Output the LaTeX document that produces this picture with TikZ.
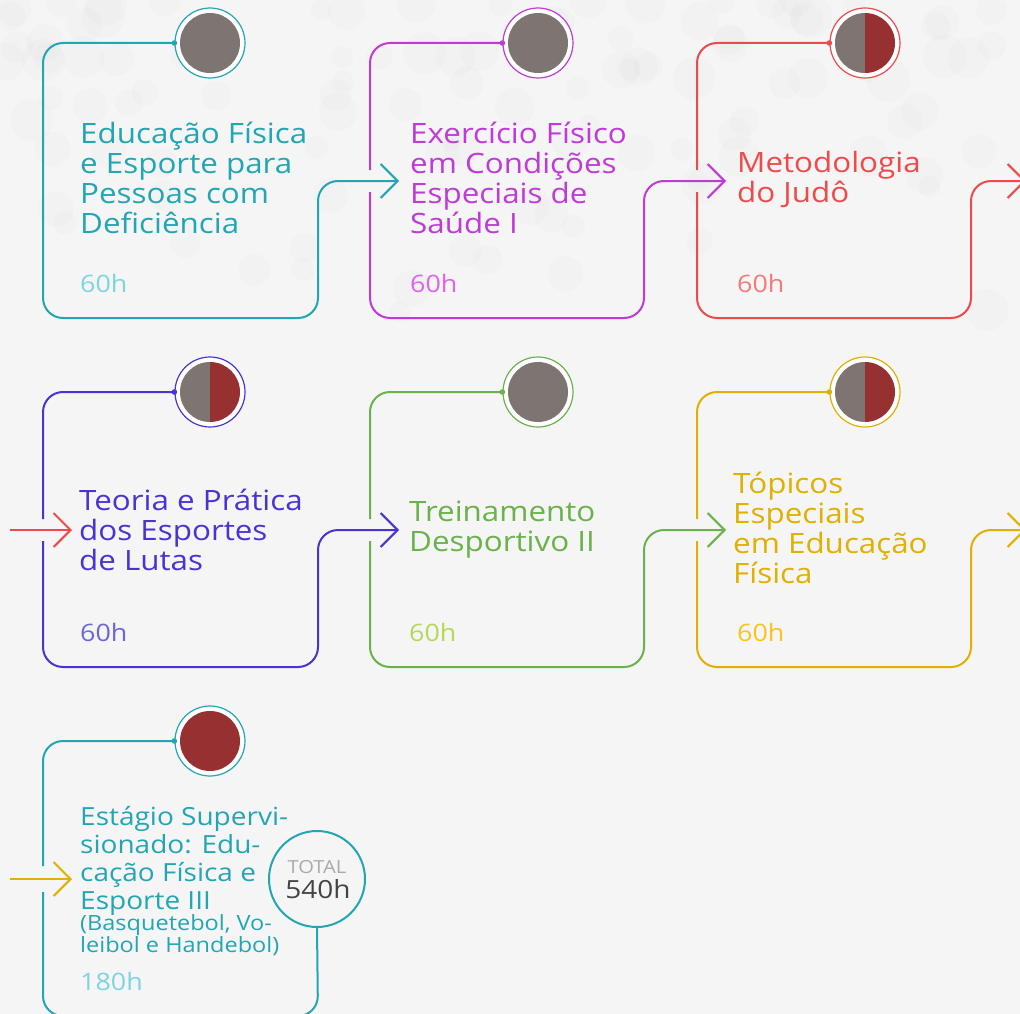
\documentclass[tikz,border=0pt]{standalone}
\usepackage{fontspec}
\setmainfont{Open Sans}[FakeStretch=1.12]
\usetikzlibrary{arrows.meta,calc}
\definecolor{bg}{HTML}{F5F5F5}
\definecolor{cTeal}{HTML}{22A6B3}
\definecolor{cTealL}{HTML}{7DD5DF}
\definecolor{cMag}{HTML}{BF3AD8}
\definecolor{cMagL}{HTML}{DE63EF}
\definecolor{cRed}{HTML}{EE4A4C}
\definecolor{cRedL}{HTML}{F67A7A}
\definecolor{cBlue}{HTML}{4934D2}
\definecolor{cBlueL}{HTML}{6A66DE}
\definecolor{cGreen}{HTML}{6AB24B}
\definecolor{cGreenL}{HTML}{B4D955}
\definecolor{cGold}{HTML}{E1B000}
\definecolor{cGoldL}{HTML}{F7C51D}
\definecolor{dGray}{HTML}{7E7573}
\definecolor{dRed}{HTML}{973131}
\definecolor{totGray}{HTML}{AAAAAA}
\definecolor{totDark}{HTML}{444444}
\tikzset{
 card/.style={line width=2pt, rounded corners=20pt},
 arr/.style={-{Straight Barb[length=17pt,width=34pt]}},
 ring/.style={circle, minimum size=70pt, inner sep=0pt, line width=1.2pt, fill=white, draw},
 title/.style={anchor=base west, align=left, inner sep=0pt, font=\fontsize{28}{30}\selectfont},
 hours/.style={anchor=base west, inner sep=0pt, font=\fontsize{24}{28}\selectfont},
}
\newcommand\grayDisc[1]{\fill[dGray] (#1) circle (30pt);}
\newcommand\redDisc[1]{\fill[dRed] (#1) circle (30pt);}
\newcommand\halfDisc[1]{%
  \fill[dGray] ($(#1)+(0,30)$) arc[start angle=90, end angle=270, radius=30] -- cycle;
  \fill[dRed] ($(#1)+(0,30)$) arc[start angle=90, end angle=-90, radius=30] -- cycle;}
\begin{document}
\begin{tikzpicture}[x=1pt,y=-1pt]
\useasboundingbox (0,0) rectangle (1020,1014);
\clip (0,0) rectangle (1020,1014);
\fill[bg] (0,0) rectangle (1020,1014);
\pgfmathsetseed{3}
\foreach \k in {1,...,110}{
  \pgfmathsetmacro\xx{rnd*1020}
  \pgfmathsetmacro\yy{rnd*rnd*340}
  \pgfmathsetmacro\rr{10+rnd*12}
  \fill[black, opacity=0.012] (\xx,\yy) circle (\rr pt);
}
% circles
\node[ring, draw=cTeal]  (c1) at (210,43) {};
\node[ring, draw=cMag]   (c2) at (538,43) {};
\node[ring, draw=cRed]   (c3) at (865,43) {};
\node[ring, draw=cBlue]  (c4) at (210,392) {};
\node[ring, draw=cGreen] (c5) at (538,392) {};
\node[ring, draw=cGold]  (c6) at (865,392) {};
\node[ring, draw=cTeal]  (c7) at (210,741) {};
\grayDisc{c1}\grayDisc{c2}\halfDisc{c3}
\halfDisc{c4}\grayDisc{c5}\halfDisc{c6}
\redDisc{c7}
% arrow tips
\coordinate (a2) at (399,181);
\coordinate (a3) at (726,181);
\coordinate (a3out) at (1026,181);
\coordinate (a4in) at (10,530);
\coordinate (a4) at (72,530);
\coordinate (a5) at (399,530);
\coordinate (a6) at (726,530);
\coordinate (a6out) at (1026,530);
\coordinate (a7in) at (10,879);
\coordinate (a7) at (72,879);
% total circle
\node[circle, draw=cTeal, line width=2pt, fill=bg, minimum size=96pt, inner sep=0pt] (tot) at (317,879) {};
\node[anchor=base, inner sep=0pt, text=totGray, font=\fontsize{18}{20}\selectfont] (totl) at (317,873) {TOTAL};
\node[anchor=base, inner sep=0pt, text=totDark, font=\fontsize{25}{26}\selectfont] (toth) at (318,898) {540h};
% card outlines
\draw[card, cTeal, arr] (c1.west) -- (43,43) -- (43,318) -- (318,318) -- (318,181) -- (a2);
\draw[card, cMag] (c2.west) -- (370,43) -- (370,170);
\draw[card, cMag, arr] (370,192) -- (370,318) -- (644,318) -- (644,181) -- (a3);
\draw[card, cRed] (c3.west) -- (697,43) -- (697,170);
\draw[card, cRed, arr] (697,192) -- (697,318) -- (971,318) -- (971,181) -- (a3out);
\draw[line width=2pt, cRed, arr] (a4in) -- (a4);
\draw[card, cBlue] (c4.west) -- (43,392) -- (43,519);
\draw[card, cBlue, arr] (43,541) -- (43,667) -- (318,667) -- (318,530) -- (a5);
\draw[card, cGreen] (c5.west) -- (370,392) -- (370,519);
\draw[card, cGreen, arr] (370,541) -- (370,667) -- (644,667) -- (644,530) -- (a6);
\draw[card, cGold] (c6.west) -- (697,392) -- (697,519);
\draw[card, cGold, arr] (697,541) -- (697,667) -- (971,667) -- (971,530) -- (a6out);
\draw[line width=2pt, cGold, arr] (a7in) -- (a7);
\draw[card, cTeal] (c7.west) -- (43,741) -- (43,866);
\draw[card, cTeal] (43,892) -- (43,1016) -- (318,1016) -- (tot.south);
% dots
\foreach \c/\col in {c1/cTeal,c2/cMag,c3/cRed,c4/cBlue,c5/cGreen,c6/cGold,c7/cTeal}
  \fill[\col] (\c.west) circle (2.8pt);
% titles (base anchor = last line baseline)
\node[title, text=cTeal]  (t1) at (80,233) {Educação Física\\e Esporte para\\Pessoas com\\Deficiência};
\node[title, text=cMag]   (t2) at (410,233) {Exercício Físico\\em Condições\\Especiais de\\Saúde I};
\node[title, text=cRed]   (t3) at (737,202) {Metodologia\\do Judô};
\node[title, text=cBlue]  (t4) at (79,570) {Teoria e Prática\\dos Esportes\\de Lutas};
\node[title, text=cGreen] (t5) at (409,551) {Treinamento\\Desportivo II};
\node[title, text=cGold]  (t6) at (733,583) {Tópicos\\Especiais\\em Educação\\Física};
\node[title, text=cTeal, font=\fontsize{25}{28}\selectfont] (t7) at (80,909) {Estágio Supervi-\\sionado: Edu-\\cação Física e\\Esporte III};
\node[title, text=cTeal, font=\fontsize{21}{22}\selectfont] (t7b) at (80,952) {(Basquetebol, Vo-\\leibol e Handebol)};
% hours
\node[hours, text=cTealL]  (h1) at (80,292) {60h};
\node[hours, text=cMagL]   (h2) at (410,292) {60h};
\node[hours, text=cRedL]   (h3) at (737,292) {60h};
\node[hours, text=cBlueL]  (h4) at (80,641) {60h};
\node[hours, text=cGreenL] (h5) at (409,641) {60h};
\node[hours, text=cGoldL]  (h6) at (737,641) {60h};
\node[hours, text=cTealL]  (h7) at (80,990) {180h};
\end{tikzpicture}
\end{document}
